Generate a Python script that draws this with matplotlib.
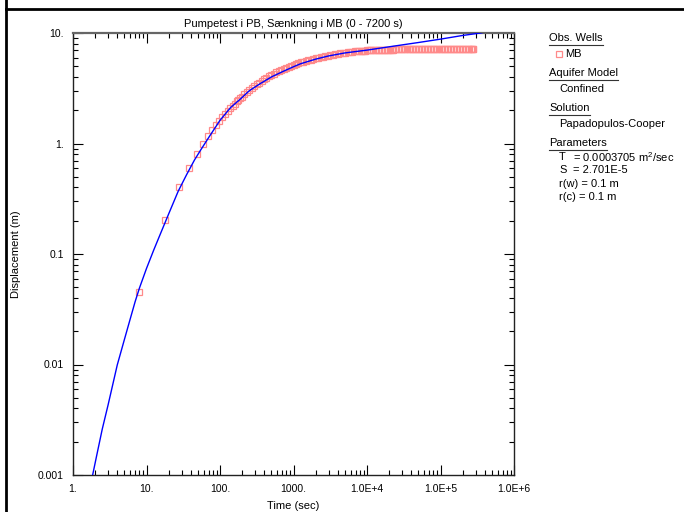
import matplotlib
matplotlib.use('Agg')
import matplotlib.pyplot as plt
from matplotlib.lines import Line2D
from matplotlib.ticker import FixedLocator, LogLocator, NullFormatter
from matplotlib.transforms import IdentityTransform

plt.rcParams['font.family'] = ['Liberation Sans', 'DejaVu Sans']
plt.rcParams['mathtext.default'] = 'regular'

# observed displacement in well MB
obs_time = [8, 18, 28, 38, 48, 58, 68, 78, 88, 98,
            108, 118, 128, 138, 148, 158, 168, 178, 188, 198,
            215, 232, 250, 270, 292, 315, 340, 367, 397, 428,
            463, 500, 540, 583, 630, 680, 734, 793, 857, 925,
            1000, 1080, 1165, 1260, 1360, 1470, 1585, 1710, 1850, 2000,
            2160, 2330, 2520, 2720, 2940, 3170, 3430, 3700, 4000, 4320,
            4660, 5040, 5440, 5870, 6340, 6850, 7200, 7800, 8600, 9500,
            10500, 11500, 12700, 14000, 15400, 17000, 18700, 20600, 22700,
            25000, 27500, 30300, 33300, 36700, 40400, 44400, 48900, 53800,
            59200, 65100, 71600, 78800, 86700, 95400, 105000, 115000,
            127000, 140000, 154000, 169000, 186000, 205000, 225000, 248000,
            268000, 280000,
            8200, 9000, 10000, 11000, 12100, 13300, 14700, 16200, 17800,
            19600, 21600, 23800, 26200, 28900, 31800, 35000, 38500, 42400,
            46600, 51300, 56500, 62100, 68300, 75200, 82700, 91000, 100000,
            110000, 121000, 133000, 147000, 161000, 177000, 195000, 215000,
            236000, 258000, 274000]
obs_disp = [0.045, 0.204, 0.404, 0.605, 0.81, 0.99, 1.17, 1.32, 1.46, 1.61,
            1.74, 1.86, 1.98, 2.09, 2.2, 2.3, 2.4, 2.5, 2.58, 2.66,
            2.80, 2.92, 3.05, 3.17, 3.30, 3.43, 3.56, 3.68, 3.82, 3.93,
            4.05, 4.17, 4.29, 4.41, 4.53, 4.64, 4.75, 4.86, 4.95, 5.05,
            5.15, 5.24, 5.33, 5.42, 5.50, 5.58, 5.66, 5.74, 5.82, 5.92,
            5.99, 6.06, 6.12, 6.18, 6.25, 6.30, 6.37, 6.42, 6.48, 6.53,
            6.58, 6.63, 6.68, 6.72, 6.77, 6.81, 6.84, 6.87, 6.90, 6.93,
            6.96, 6.98, 7.00, 7.02, 7.04, 7.06, 7.07, 7.08, 7.09,
            7.10, 7.11, 7.12, 7.12, 7.13, 7.13, 7.14, 7.14, 7.14,
            7.15, 7.15, 7.15, 7.15, 7.15, 7.15, 7.15, 7.15,
            7.15, 7.15, 7.15, 7.15, 7.15, 7.15, 7.15, 7.15,
            7.15, 7.15,
            6.89, 6.92, 6.95, 6.97, 6.99, 7.01, 7.03, 7.05, 7.06,
            7.08, 7.09, 7.10, 7.11, 7.11, 7.12, 7.13, 7.13, 7.14,
            7.14, 7.14, 7.15, 7.15, 7.15, 7.15, 7.15, 7.15, 7.15,
            7.15, 7.15, 7.15, 7.15, 7.15, 7.15, 7.15, 7.15,
            7.15, 7.15, 7.15]

# fitted Papadopulos-Cooper curve
fit_time = [1.85, 2.1, 2.5, 3, 4, 5, 6, 7, 8, 10, 12.5, 15, 20, 27, 35, 45,
            55, 70, 100, 140, 190, 250, 350, 500, 700, 1000, 1250, 2000,
            3000, 5000, 10000, 20000, 50000, 100000, 200000, 350000, 400000]
fit_disp = [0.001, 0.0015, 0.0026, 0.0043, 0.0099, 0.0168, 0.0258, 0.037,
            0.049, 0.074, 0.108, 0.145, 0.23, 0.37, 0.52, 0.71, 0.88, 1.13,
            1.62, 2.12, 2.53, 3.0, 3.47, 4.0, 4.45, 4.95, 5.27, 5.8, 6.2, 6.6,
            7.0, 7.5, 8.2, 8.8, 9.5, 10.0, 10.2]

x_ticks = [1, 10, 100, 1000, 1e4, 1e5, 1e6]
x_labels = ['1.', '10.', '100.', '1000.', '1.0E+4', '1.0E+5', '1.0E+6']
y_ticks = [0.001, 0.01, 0.1, 1, 10]
y_labels = ['0.001', '0.01', '0.1', '1.', '10.']

W, H = 684, 512


def px(x, y):
    return x / W, 1 - y / H


fig = plt.figure(figsize=(W / 100, H / 100), dpi=100)
ax = fig.add_axes([73 / W, 1 - 475 / H, (514 - 73) / W, (475 - 33) / H])

ax.plot(obs_time, obs_disp, linestyle='none', marker='s', markersize=4.6,
        markerfacecolor='none', markeredgecolor='#ff8a8a',
        markeredgewidth=0.9, zorder=2)
ax.plot(fit_time, fit_disp, color='#0000ff', lw=1.0, zorder=3)

ax.set_xscale('log')
ax.set_yscale('log')
ax.set_xlim(1, 1e6)
ax.set_ylim(0.001, 10)

ax.xaxis.set_major_locator(FixedLocator(x_ticks))
ax.set_xticklabels(x_labels)
ax.yaxis.set_major_locator(FixedLocator(y_ticks))
ax.set_yticklabels(y_labels)
ax.xaxis.set_minor_locator(LogLocator(base=10, subs=range(2, 10), numticks=20))
ax.yaxis.set_minor_locator(LogLocator(base=10, subs=range(2, 10), numticks=20))
ax.xaxis.set_minor_formatter(NullFormatter())
ax.yaxis.set_minor_formatter(NullFormatter())

ax.tick_params(which='both', direction='in', top=True, right=True,
               labelsize=7.5, color='black', width=0.8)
ax.tick_params(which='major', length=7.5, pad=6.5)
ax.tick_params(which='minor', length=3.8)
for s in ax.spines.values():
    s.set_linewidth(1.0)
    s.set_color('#222222')
ax.spines['top'].set_color('#666666')
ax.spines['top'].set_linewidth(1.6)

fig.text(*px(293.5, 24), 'Pumpetest i PB, Sænkning i MB (0 - 7200 s)',
         ha='center', va='center', fontsize=8)
fig.text(*px(293.5, 506), 'Time (sec)', ha='center', va='center', fontsize=8)
fig.text(*px(15.7, 254), 'Displacement (m)', ha='center', va='center',
         rotation=90, fontsize=8)

# outer frame
fig.add_artist(Line2D([6 / W, 6 / W], [0, 1], color='black', lw=2.0,
                      transform=fig.transFigure))
fig.add_artist(Line2D([6 / W, 1], [1 - 9 / H, 1 - 9 / H], color='black',
                      lw=2.0, transform=fig.transFigure))

# legend panel
headers = [('Obs. Wells', 38.3), ('Aquifer Model', 73.3),
           ('Solution', 108.3), ('Parameters', 143.3)]
head_texts = []
for label, y in headers:
    head_texts.append(fig.text(*px(549, y), label, ha='left', va='center',
                               fontsize=8))

fig.add_artist(Line2D([px(559, 53.7)[0]], [px(559, 53.7)[1]], marker='s',
                      markersize=4.6, markerfacecolor='none',
                      markeredgecolor='#ff8a8a', markeredgewidth=0.9,
                      transform=fig.transFigure))
fig.text(*px(565, 53.7), 'MB', ha='left', va='center', fontsize=8)
fig.text(*px(559, 89.3), 'Confined', ha='left', va='center', fontsize=8)
fig.text(*px(559, 124.3), 'Papadopulos-Cooper', ha='left', va='center',
         fontsize=8)
fig.text(*px(559, 156.7), 'T', ha='left', va='center', fontsize=8)
fig.text(*px(572.7, 156.7), '= 0.0003705 m$^{2}$/sec', ha='left',
         va='center', fontsize=8)
fig.text(*px(559, 170.2), 'S', ha='left', va='center', fontsize=8)
fig.text(*px(572.7, 170.2), '= 2.701E-5', ha='left', va='center', fontsize=8)
fig.text(*px(559, 183.6), 'r(w) = 0.1 m', ha='left', va='center', fontsize=8)
fig.text(*px(559, 197), 'r(c) = 0.1 m', ha='left', va='center', fontsize=8)

fig.canvas.draw()
renderer = fig.canvas.get_renderer()
for t in head_texts:
    bb = t.get_window_extent(renderer)
    yline = bb.y0 - 1.5
    fig.add_artist(Line2D([bb.x0, bb.x1], [yline, yline], color='#333333',
                          lw=0.8, transform=IdentityTransform()))

fig.savefig('out.png', dpi=100)
